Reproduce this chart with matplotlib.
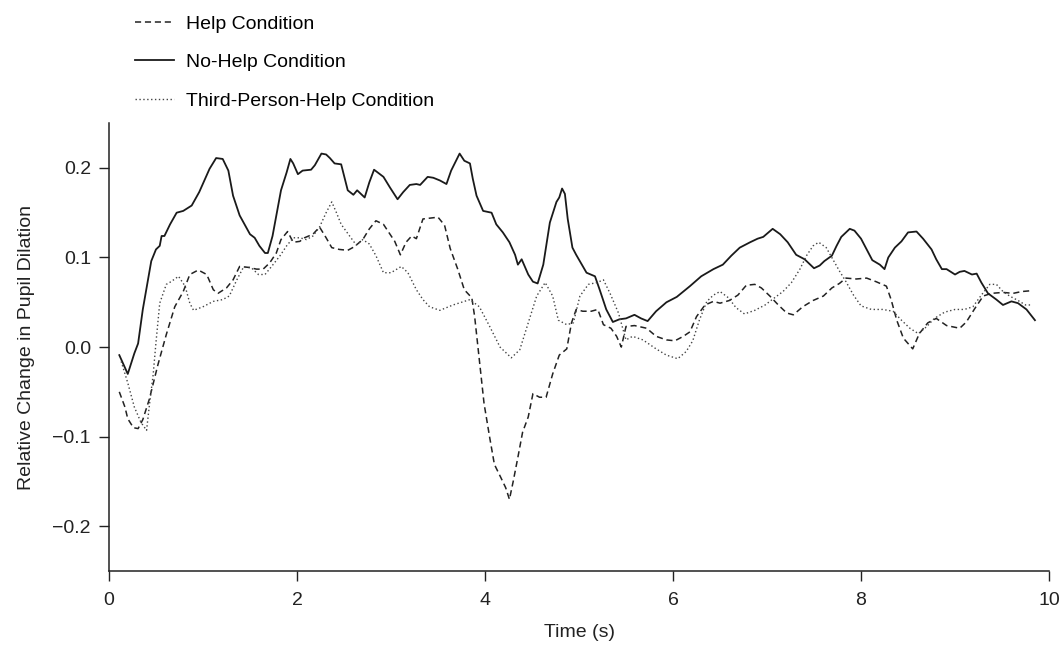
import numpy as np
import matplotlib
matplotlib.use("Agg")
import matplotlib.pyplot as plt

plt.rcParams['font.family'] = ['Liberation Sans', 'DejaVu Sans']

# (time s, relative change)
help_curve = [
    (0.11, -0.050), (0.17, -0.067), (0.20, -0.080), (0.26, -0.090), (0.31, -0.091),
    (0.36, -0.081), (0.43, -0.058), (0.52, -0.020), (0.61, 0.014), (0.70, 0.045),
    (0.79, 0.062), (0.86, 0.081), (0.95, 0.086), (1.04, 0.081), (1.11, 0.064),
    (1.16, 0.060), (1.25, 0.066), (1.32, 0.075), (1.39, 0.090), (1.48, 0.089),
    (1.57, 0.087), (1.64, 0.087), (1.71, 0.094), (1.78, 0.105), (1.83, 0.120),
    (1.90, 0.129), (1.96, 0.117), (2.03, 0.118), (2.08, 0.122), (2.17, 0.126),
    (2.24, 0.134), (2.31, 0.122), (2.37, 0.111), (2.45, 0.109), (2.54, 0.108),
    (2.61, 0.112), (2.70, 0.120), (2.77, 0.132), (2.84, 0.141), (2.92, 0.137),
    (2.99, 0.126), (3.04, 0.118), (3.10, 0.103), (3.16, 0.117), (3.22, 0.124),
    (3.27, 0.121), (3.34, 0.143), (3.42, 0.144), (3.50, 0.145), (3.57, 0.136),
    (3.63, 0.110), (3.71, 0.087), (3.78, 0.064), (3.86, 0.055), (3.89, 0.034),
    (3.94, -0.015), (3.99, -0.063), (4.05, -0.101), (4.10, -0.131), (4.17, -0.146),
    (4.22, -0.157), (4.26, -0.170), (4.30, -0.150), (4.35, -0.123), (4.40, -0.095),
    (4.46, -0.078), (4.51, -0.052), (4.58, -0.056), (4.65, -0.056), (4.72, -0.030),
    (4.79, -0.009), (4.87, -0.002), (4.92, 0.027), (4.97, 0.042), (5.04, 0.040),
    (5.13, 0.040), (5.20, 0.042), (5.26, 0.025), (5.34, 0.021), (5.40, 0.012),
    (5.45, 0.000), (5.50, 0.023), (5.59, 0.024), (5.72, 0.021), (5.82, 0.012),
    (5.93, 0.008), (6.02, 0.007), (6.11, 0.012), (6.18, 0.017), (6.25, 0.034),
    (6.34, 0.047), (6.43, 0.051), (6.50, 0.049), (6.60, 0.052), (6.69, 0.058),
    (6.78, 0.069), (6.87, 0.070), (6.94, 0.066), (7.03, 0.057), (7.12, 0.047),
    (7.21, 0.038), (7.28, 0.036), (7.38, 0.045), (7.49, 0.052), (7.60, 0.057),
    (7.69, 0.066), (7.77, 0.071), (7.84, 0.077), (7.95, 0.076), (8.06, 0.077),
    (8.16, 0.073), (8.27, 0.068), (8.32, 0.053), (8.38, 0.030), (8.45, 0.010),
    (8.55, -0.002), (8.62, 0.015), (8.71, 0.027), (8.80, 0.032), (8.91, 0.024),
    (9.05, 0.021), (9.12, 0.028), (9.21, 0.043), (9.30, 0.057), (9.39, 0.060),
    (9.51, 0.061), (9.62, 0.060), (9.71, 0.062), (9.82, 0.063),
]

nohelp_time = [
    0.11, 0.20, 0.27, 0.31, 0.36, 0.45, 0.50, 0.54, 0.56, 0.59,
    0.65, 0.72, 0.79, 0.88, 0.96, 1.07, 1.14, 1.21, 1.27, 1.32,
    1.39, 1.50, 1.55, 1.60, 1.66, 1.69, 1.74, 1.83, 1.89, 1.93,
    1.96, 2.01, 2.06, 2.15, 2.19, 2.26, 2.31, 2.35, 2.40, 2.47,
    2.54, 2.60, 2.64, 2.72, 2.77, 2.82, 2.92, 2.99, 3.07, 3.13,
    3.20, 3.27, 3.31, 3.39, 3.45, 3.52, 3.59, 3.64, 3.73, 3.78,
    3.84, 3.87, 3.91, 3.98, 4.07, 4.12, 4.19, 4.26, 4.32, 4.35,
    4.39, 4.46, 4.51, 4.56, 4.62, 4.69, 4.76, 4.79, 4.82, 4.85,
    4.88, 4.93, 4.97, 5.03, 5.08, 5.17, 5.22, 5.29, 5.36, 5.43,
    5.50, 5.59, 5.66, 5.73, 5.82, 5.93, 6.04, 6.18, 6.30, 6.43,
    6.53, 6.62, 6.71, 6.82, 6.90, 6.96, 7.06, 7.14, 7.22, 7.31,
    7.40, 7.50, 7.56, 7.61, 7.69, 7.74, 7.79, 7.88, 7.93, 8.00,
    8.06, 8.12, 8.20, 8.25, 8.29, 8.36, 8.43, 8.50, 8.59, 8.66,
    8.75, 8.80, 8.86, 8.91, 9.00, 9.05, 9.10, 9.18, 9.23, 9.28,
    9.35, 9.44, 9.51, 9.60, 9.67, 9.76, 9.85,
]
nohelp_vals = [
    -0.009, -0.030, -0.007, 0.004, 0.042, 0.096, 0.109, 0.113, 0.124, 0.124,
    0.137, 0.150, 0.152, 0.158, 0.173, 0.199, 0.211, 0.210, 0.197, 0.169,
    0.147, 0.126, 0.122, 0.113, 0.105, 0.105, 0.124, 0.175, 0.195, 0.210,
    0.205, 0.193, 0.197, 0.198, 0.203, 0.216, 0.215, 0.211, 0.205, 0.204,
    0.175, 0.170, 0.175, 0.167, 0.184, 0.198, 0.190, 0.178, 0.165, 0.173,
    0.181, 0.182, 0.181, 0.190, 0.189, 0.186, 0.182, 0.197, 0.216, 0.208,
    0.205, 0.188, 0.169, 0.152, 0.150, 0.137, 0.128, 0.117, 0.103, 0.092,
    0.098, 0.081, 0.073, 0.071, 0.092, 0.139, 0.162, 0.167, 0.177, 0.171,
    0.143, 0.111, 0.103, 0.092, 0.083, 0.079, 0.064, 0.042, 0.028, 0.031,
    0.032, 0.036, 0.032, 0.029, 0.040, 0.050, 0.056, 0.068, 0.079, 0.087,
    0.092, 0.102, 0.111, 0.117, 0.121, 0.123, 0.132, 0.126, 0.117, 0.103,
    0.098, 0.088, 0.091, 0.096, 0.102, 0.113, 0.123, 0.132, 0.130, 0.121,
    0.109, 0.097, 0.092, 0.087, 0.100, 0.111, 0.118, 0.128, 0.129, 0.121,
    0.109, 0.098, 0.087, 0.087, 0.081, 0.084, 0.085, 0.081, 0.082, 0.072,
    0.060, 0.053, 0.047, 0.051, 0.049, 0.042, 0.030,
]

third_curve = [
    (0.13, -0.016), (0.20, -0.040), (0.27, -0.067), (0.34, -0.084), (0.40, -0.093),
    (0.43, -0.065), (0.47, -0.031), (0.50, 0.005), (0.54, 0.049), (0.61, 0.070),
    (0.66, 0.073), (0.74, 0.079), (0.81, 0.068), (0.86, 0.049), (0.90, 0.041),
    (1.00, 0.045), (1.11, 0.051), (1.21, 0.053), (1.28, 0.057), (1.36, 0.075),
    (1.43, 0.089), (1.51, 0.089), (1.59, 0.081), (1.66, 0.081), (1.73, 0.090),
    (1.82, 0.102), (1.89, 0.113), (1.96, 0.122), (2.03, 0.122), (2.10, 0.120),
    (2.17, 0.124), (2.24, 0.134), (2.31, 0.150), (2.37, 0.162), (2.42, 0.150),
    (2.47, 0.137), (2.56, 0.124), (2.63, 0.114), (2.70, 0.120), (2.77, 0.115),
    (2.84, 0.102), (2.92, 0.083), (3.00, 0.083), (3.11, 0.090), (3.18, 0.083),
    (3.27, 0.064), (3.34, 0.053), (3.41, 0.045), (3.52, 0.041), (3.66, 0.047),
    (3.84, 0.053), (3.94, 0.045), (4.05, 0.023), (4.16, 0.000), (4.28, -0.012),
    (4.37, -0.003), (4.46, 0.027), (4.55, 0.057), (4.64, 0.072), (4.72, 0.057),
    (4.78, 0.030), (4.87, 0.025), (4.94, 0.027), (5.01, 0.057), (5.10, 0.070),
    (5.19, 0.072), (5.26, 0.075), (5.33, 0.060), (5.42, 0.038), (5.47, 0.019),
    (5.50, 0.008), (5.57, 0.012), (5.68, 0.008), (5.82, -0.002), (5.93, -0.009),
    (6.05, -0.013), (6.14, -0.005), (6.21, 0.007), (6.28, 0.030), (6.36, 0.051),
    (6.43, 0.058), (6.50, 0.062), (6.59, 0.055), (6.67, 0.044), (6.76, 0.037),
    (6.87, 0.041), (6.98, 0.047), (7.08, 0.055), (7.17, 0.062), (7.26, 0.072),
    (7.35, 0.087), (7.42, 0.102), (7.49, 0.113), (7.55, 0.117), (7.63, 0.111),
    (7.70, 0.098), (7.77, 0.085), (7.84, 0.073), (7.92, 0.058), (8.00, 0.046),
    (8.11, 0.042), (8.23, 0.042), (8.34, 0.040), (8.43, 0.030), (8.52, 0.021),
    (8.61, 0.015), (8.70, 0.023), (8.78, 0.032), (8.89, 0.039), (9.00, 0.042),
    (9.10, 0.042), (9.19, 0.045), (9.28, 0.058), (9.37, 0.070), (9.44, 0.070),
    (9.51, 0.062), (9.58, 0.057), (9.67, 0.052), (9.75, 0.047), (9.82, 0.047),
]

labels = ['Help Condition', 'No-Help Condition', 'Third-Person-Help Condition']
x_ticks = [0, 2, 4, 6, 8, 10]
y_ticks = [-0.2, -0.1, 0.0, 0.1, 0.2]

help_arr = np.array(help_curve)
third_arr = np.array(third_curve)

fs = 14
ink = '#222222'

fig = plt.figure(figsize=(10.62, 6.48), dpi=100)
ax = fig.add_axes([0.1026, 0.1188, 0.8852, 0.6912])

ax.plot(help_arr[:, 0], help_arr[:, 1], color=ink, lw=1.1,
        linestyle=(0, (4, 2.5)), label=labels[0])
ax.plot(nohelp_time, nohelp_vals, color='#1a1a1a', lw=1.3,
        linestyle='-', label=labels[1])
ax.plot(third_arr[:, 0], third_arr[:, 1], color='#444444', lw=1.0,
        linestyle=(0, (1, 1.8)), label=labels[2])

ax.set_xlim(0, 10)
ax.set_ylim(-0.25, 0.25)
ax.set_xticks(x_ticks)
ax.set_yticks(y_ticks)
ax.set_xticklabels([str(t) for t in x_ticks])
ax.set_yticklabels(['\u22120.2', '\u22120.1', '0.0', '0.1', '0.2'])

for side in ['top', 'right']:
    ax.spines[side].set_visible(False)
for side in ['left', 'bottom']:
    ax.spines[side].set_linewidth(1.1)
    ax.spines[side].set_color(ink)

ax.tick_params(direction='out', length=7, width=1.0, labelsize=fs,
               colors=ink)
ax.tick_params(axis='x', pad=8)
ax.tick_params(axis='y', pad=6)
ax.set_xlabel('Time (s)', fontsize=fs, color=ink)
ax.set_ylabel('Relative Change in Pupil Dilation', fontsize=fs, color=ink)
ax.xaxis.set_label_coords(0.5, -0.118)
ax.yaxis.set_label_coords(-0.079, 0.5)

fig.legend(loc='upper left', bbox_to_anchor=(0.127, 0.977), frameon=False,
           fontsize=fs, handlelength=2.0, handletextpad=0.62,
           labelspacing=1.08, borderpad=0, borderaxespad=0)

fig.savefig('out.png', dpi=100)
